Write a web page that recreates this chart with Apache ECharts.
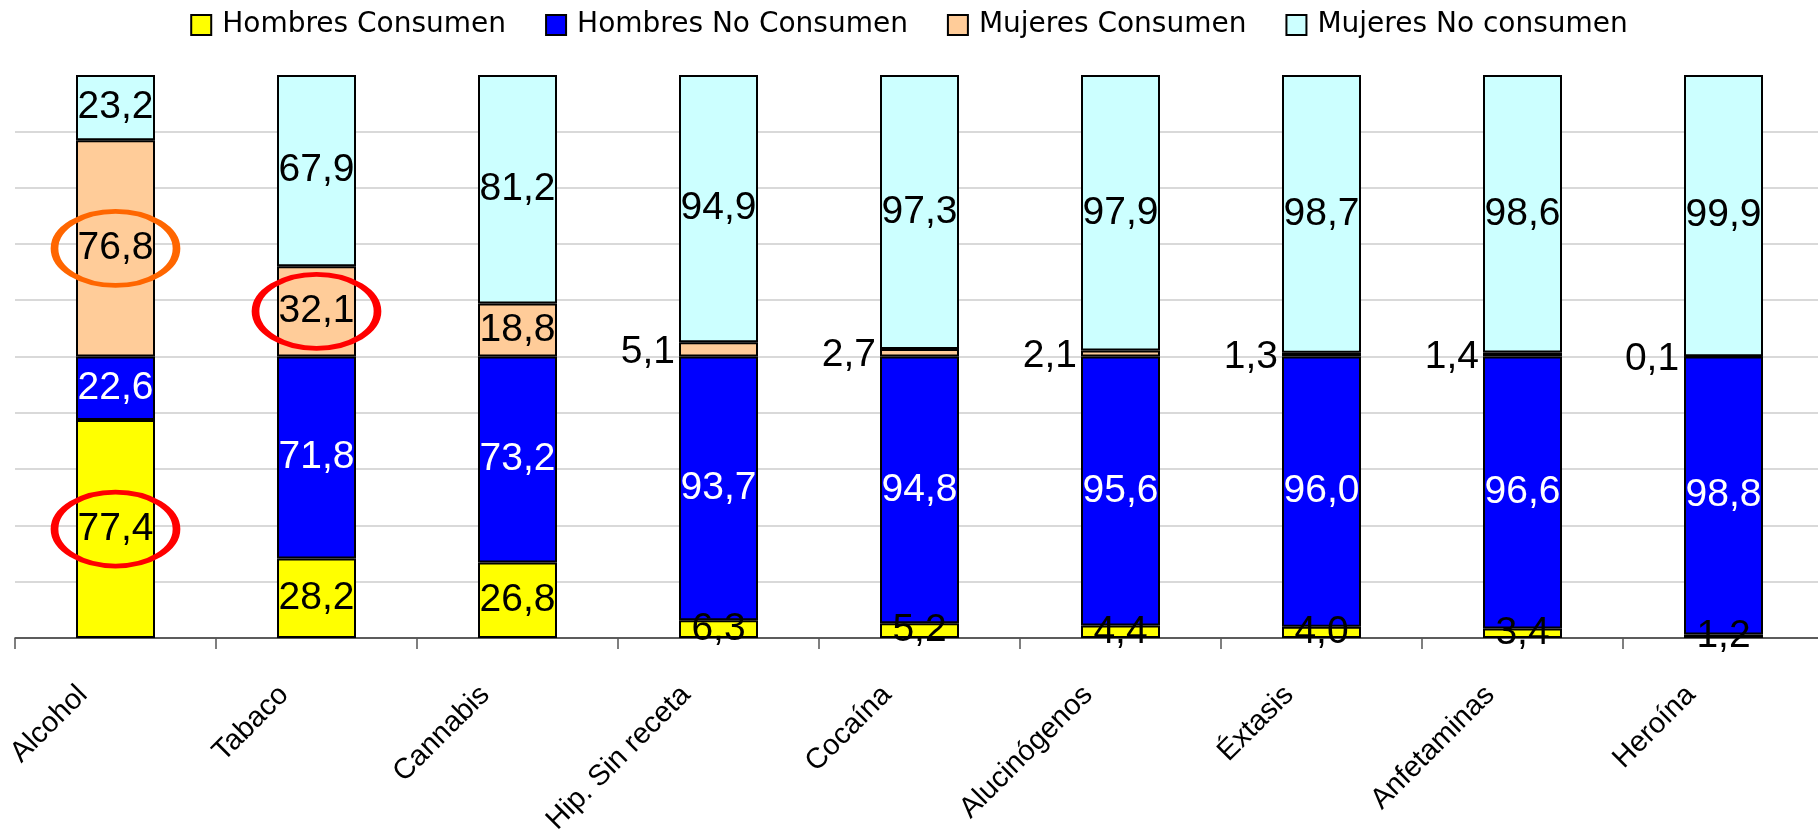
<!DOCTYPE html>
<html>
<head>
<meta charset="utf-8">
<script src="https://cdn.jsdelivr.net/npm/echarts@6/dist/echarts.min.js"></script>
<style>
  html, body { margin: 0; padding: 0; background: #fff; }
  #chart { width: 1818px; height: 836px; }
</style>
</head>
<body>
<div id="chart"></div>
<script>
// datos
const categories = ['Alcohol', 'Tabaco', 'Cannabis', 'Hip. Sin receta', 'Cocaína', 'Alucinógenos', 'Éxtasis', 'Anfetaminas', 'Heroína'];
const hombresConsumen   = [77.4, 28.2, 26.8, 6.3, 5.2, 4.4, 4.0, 3.4, 1.2];
const hombresNoConsumen = [22.6, 71.8, 73.2, 93.7, 94.8, 95.6, 96.0, 96.6, 98.8];
const mujeresConsumen   = [76.8, 32.1, 18.8, 5.1, 2.7, 2.1, 1.3, 1.4, 0.1];
const mujeresNoConsumen = [23.2, 67.9, 81.2, 94.9, 97.3, 97.9, 98.7, 98.6, 99.9];
const yMin = 0, yMax = 200, yStep = 20;

// valores resaltados con elipse: [serie, categoría, color]
const highlights = [
    ['hc', 0, '#ff0000'],
    ['mc', 0, '#ff6600'],
    ['mc', 1, '#ff0000']
];

const labelFont = 'Liberation Sans, Arial, sans-serif';
const fmt = v => v.toFixed(1).replace('.', ',');

const stacks = { hc: hombresConsumen, hnc: hombresNoConsumen, mc: mujeresConsumen, mnc: mujeresNoConsumen };
const order = ['hc', 'hnc', 'mc', 'mnc'];

function centerOf(key, i) {
    let base = 0;
    for (const k of order) {
        if (k === key) break;
        base += stacks[k][i];
    }
    return base + stacks[key][i] / 2;
}

function markPointsFor(key) {
    return {
        symbol: 'circle',
        symbolSize: [122, 74],
        silent: true,
        label: { show: false },
        data: highlights.filter(h => h[0] === key).map(h => ({
            coord: [categories[h[1]], centerOf(key, h[1])],
            itemStyle: { color: 'rgba(0,0,0,0)', borderColor: h[2], borderWidth: 6 }
        }))
    };
}

function makeSeries(key, name, color, textColor) {
    const values = stacks[key];
    return {
        name: name,
        type: 'bar',
        stack: 'total',
        barWidth: 79,
        itemStyle: { color: color, borderColor: '#000', borderWidth: 2 },
        label: {
            show: true,
            position: 'inside',
            color: textColor,
            fontFamily: labelFont,
            fontSize: 39,
            formatter: p => fmt(p.value)
        },
        data: values.map(v => {
            // los valores pequeños de mujeres van a la izquierda de la barra
            if (key === 'mc' && v < 10) {
                return { value: v, label: { position: 'left', distance: 4, offset: [0, 3], color: '#000' } };
            }
            return v;
        }),
        markPoint: markPointsFor(key)
    };
}

const chart = echarts.init(document.getElementById('chart'));
chart.setOption({
    animation: false,
    legend: {
        top: 6,
        left: 'center',
        icon: 'rect',
        itemWidth: 20,
        itemHeight: 20,
        itemGap: 39,
        textStyle: { fontFamily: 'DejaVu Sans, sans-serif', fontSize: 28, color: '#000', padding: [0, 0, 0, 6] }
    },
    grid: {
        left: 15,
        right: -6,
        top: 75,
        bottom: 198,
        containLabel: false,
        outerBoundsMode: 'none'
    },
    xAxis: {
        type: 'category',
        data: categories,
        axisLine: { lineStyle: { color: '#333', width: 1.5 } },
        axisTick: { show: true, length: 11, lineStyle: { color: '#555', width: 1.5 } },
        axisLabel: {
            interval: 0,
            rotate: 45,
            margin: 20,
            padding: [0, 46, 0, 0],
            color: '#000',
            fontFamily: labelFont,
            fontSize: 29
        }
    },
    yAxis: {
        type: 'value',
        min: yMin,
        max: yMax,
        interval: yStep,
        axisLine: { show: false },
        axisTick: { show: false },
        axisLabel: { show: false },
        splitLine: { show: true, showMaxLine: false, lineStyle: { color: '#d9d9d9', width: 2 } }
    },
    series: [
        makeSeries('hc', 'Hombres Consumen', '#ffff00', '#000'),
        makeSeries('hnc', 'Hombres No Consumen', '#0000ff', '#fff'),
        makeSeries('mc', 'Mujeres Consumen', '#ffcc99', '#000'),
        makeSeries('mnc', 'Mujeres No consumen', '#ccffff', '#000')
    ]
});
</script>
</body>
</html>
